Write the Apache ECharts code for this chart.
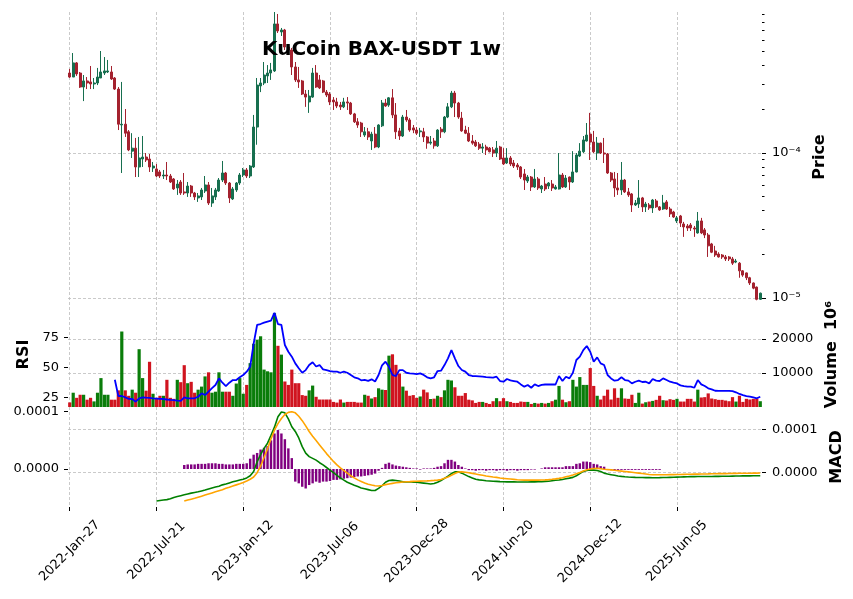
<!DOCTYPE html>
<html>
<head>
<meta charset="utf-8">
<script src="https://cdn.jsdelivr.net/npm/echarts@6/dist/echarts.min.js"></script>
<style>
  html, body { margin: 0; padding: 0; background: #fff; }
  #chart { width: 853px; height: 599px; }
</style>
</head>
<body>
<div id="chart"></div>
<script>
// weekly candles, prices in micro-USDT (1e-6): [open, close, low, high]
const ohlc = [
  [356,334,329,380],[334,418,334,489],[418,351,340,424],[356,285,281,362],[285,314,228,345],
  [314,304,276,334],[309,299,276,398],[299,304,276,329],[304,334,294,386],[329,362,329,505],
  [356,368,345,459],[362,368,356,438],[362,324,319,398],[329,276,272,334],[276,158,144,285],
  [156,158,72.8,309],[158,137,129,201],[140,105,103,144],[103,108,92.4,137],[108,80.1,68.3,127],
  [80.1,92.4,68.3,129],[90.9,93.8,80.1,131],[93.8,89.5,86.7,100],[90.9,80.1,74.0,98.4],[78.8,81.3,74.0,86.7],
  [77.6,69.4,68.3,84.0],[74.0,69.4,67.2,76.4],[69.4,70.5,66.2,76.4],[70.5,69.4,65.1,86.7],[69.4,63.1,62.1,71.7],
  [66.2,56.5,55.6,67.2],[57.4,61.1,51.4,65.1],[63.1,53.0,51.4,65.1],[53.9,53.0,51.4,72.8],[53.0,59.2,49.8,63.1],
  [59.2,53.0,49.8,60.2],[53.0,49.8,47.4,53.9],[49.0,50.6,46.0,53.0],[49.8,55.6,47.4,57.4],[54.7,60.2,53.0,69.4],
  [60.2,45.2,43.8,63.1],[45.2,50.6,42.5,57.4],[49.8,55.6,47.4,57.4],[54.7,65.1,53.9,67.2],[65.1,72.8,63.1,88.1],
  [72.8,62.1,60.2,74.0],[62.1,49.0,45.2,63.1],[48.2,56.5,47.4,58.3],[55.6,62.1,53.9,63.1],[62.1,70.5,60.2,72.8],
  [70.5,76.4,68.3,78.8],[76.4,69.4,67.2,78.8],[69.4,81.3,67.2,82.6],[80.1,151,78.8,183],[151,294,114,329],
  [290,304,263,329],[304,345,294,424],[340,356,304,404],[356,374,319,418],[368,776,362,938],
  [776,694,672,909],[683,705,641,728],[705,538,513,717],[538,513,474,556],[513,392,345,530],
  [392,319,309,424],[319,309,281,392],[314,255,251,319],[255,243,208,272],[225,247,189,272],
  [243,356,240,386],[356,285,281,404],[319,281,276,345],[314,263,259,319],[263,251,243,272],
  [255,225,214,263],[232,225,198,243],[225,211,204,240],[214,208,198,225],[208,225,204,240],
  [225,221,198,243],[221,186,183,225],[186,164,161,189],[164,156,149,174],[161,140,129,164],
  [133,140,129,151],[140,129,123,149],[121,135,105,140],[135,110,108,151],[110,156,108,158],
  [154,221,151,232],[221,211,208,236],[214,240,208,243],[240,183,174,276],[183,140,125,221],
  [142,131,123,149],[131,177,129,183],[177,169,164,198],[169,144,140,174],[149,144,137,156],
  [144,137,133,151],[140,142,129,149],[140,129,119,149],[129,117,107,131],[117,119,114,131],
  [121,112,107,127],[112,144,110,146],[146,140,127,151],[140,177,137,180],[177,208,174,221],
  [208,259,204,268],[259,221,177,268],[221,177,172,225],[174,142,140,192],[144,137,135,154],
  [137,121,119,151],[121,117,114,133],[119,112,110,123],[115,108,105,119],[108,110,100,117],
  [110,105,96.9,114],[108,102,101,110],[105,100,93.8,110],[100,108,93.8,121],[110,90.9,89.5,112],
  [92.4,84.0,82.6,108],[85.3,92.4,84.0,108],[92.4,84.0,81.3,95.3],[85.3,81.3,78.8,89.5],[82.6,80.1,76.4,85.3],
  [80.1,68.3,66.2,81.3],[71.7,65.1,55.6,77.6],[64.1,68.3,62.1,70.5],[68.3,58.3,54.7,69.4],[58.3,66.2,57.4,77.6],
  [66.2,57.4,55.6,68.3],[56.5,59.2,53.0,60.2],[61.1,56.5,54.7,68.3],[59.2,62.1,56.5,63.1],[61.1,57.4,54.7,65.1],
  [56.5,58.3,56.0,60.2],[56.5,70.5,56.0,100],[70.5,58.3,57.4,72.8],[58.3,67.2,57.4,70.5],[68.3,63.1,55.6,68.8],
  [63.1,74.0,62.1,103],[74.0,96.9,73.5,100],[95.3,103,93.8,117],[102,123,100,131],[121,133,120,161],
  [135,119,89.5,189],[119,102,100,142],[100,117,89.5,129],[117,100,98.4,118],[100,98.4,85.3,127],
  [98.4,72.8,71.7,100],[72.8,65.1,63.1,74.0],[66.2,57.4,49.8,74.0],[57.4,55.6,51.4,72.8],[55.6,65.1,51.4,86.7],
  [65.1,53.9,53.0,66.2],[53.9,51.4,49.8,57.4],[52.2,43.8,39.2,53.0],[43.8,45.2,43.1,47.4],[44.5,49.0,41.8,65.1],
  [49.0,42.5,39.2,49.8],[42.5,44.5,39.2,46.0],[43.8,41.8,40.5,45.2],[41.8,47.4,38.6,48.2],[46.7,42.5,41.8,48.2],
  [42.5,40.5,39.9,43.1],[41.1,45.2,40.5,51.4],[46.0,41.1,40.5,47.4],[41.1,38.0,36.2,42.5],[39.2,36.2,35.7,39.9],
  [34.0,35.7,32.9,36.8],[36.8,32.9,30.9,37.4],[32.4,30.9,26.4,33.5],[31.4,30.4,29.0,32.4],[31.9,30.4,29.0,32.9],
  [30.4,29.9,26.4,31.4],[28.1,34.0,27.8,39.2],[34.0,28.1,27.6,35.7],[29.5,27.2,25.9,30.4],[27.2,22.9,19.2,28.1],
  [23.6,20.7,20.4,24.0],[21.1,19.8,19.2,22.9],[20.1,19.2,19.0,20.7],[19.8,19.2,18.6,20.1],[19.2,18.6,18.0,19.8],
  [19.2,18.6,18.0,19.5],[18.6,17.4,16.9,19.2],[17.7,18.0,17.4,18.6],[17.4,15.4,13.8,17.7],[15.4,14.4,14.0,15.6],
  [14.9,13.8,13.3,15.0],[13.8,12.7,12.3,14.0],[12.7,11.7,11.5,12.8],[11.9,9.8,9.65,12.0],[9.8,10.8,9.7,10.9]
];

// volume, shown in units of 10^6
const volumes = [
  1350,4200,2700,3600,3600,2150,2700,1650,4200,8500,
  3600,3600,2150,2150,4900,22200,4900,3300,5100,4200,
  17000,8500,4800,13300,3900,2700,3300,3300,8000,2700,
  2400,8000,7300,12300,7000,7400,4200,5100,6000,9000,
  10200,4200,4500,10200,4500,4500,4500,3300,6900,8500,
  3900,6500,12900,18600,19800,20800,11000,10500,10200,27600,
  18000,15400,7500,6500,11000,7000,7000,3500,3300,4900,
  6300,3000,2200,2200,2200,2200,1500,1300,2200,1300,
  1500,1500,1500,1300,1300,3600,3300,2500,2900,5500,
  5100,5000,15100,15500,12400,9800,6000,4800,3300,3500,
  2700,3100,5100,4300,2350,2450,3300,2900,4900,8000,
  7800,5800,3300,3300,4100,2150,1950,1200,1500,1500,
  1200,900,1700,2600,1700,2600,1700,1500,1200,1200,
  1600,1500,1500,900,1200,1000,1200,1000,1200,1700,
  2150,6200,2150,1400,1700,8000,6000,8800,6500,6500,
  11450,6200,3300,2200,3300,5100,2200,5500,2700,5500,
  2500,2400,3600,1200,4200,1000,1400,1600,1800,2100,
  3300,2000,1900,2300,2100,2400,1600,1600,2400,2400,
  1600,5100,2800,2900,4000,2500,2300,2100,2100,1900,
  1700,2900,1600,3300,1500,2400,2200,2400,2500,1700
];

// RSI, first value at week 13
const rsiStart = 13;
const rsiValues = [
  40,26.4,26.4,25.3,24,23.9,21.7,24.5,25.3,25,
  24.8,24.5,24.3,24,23.9,23.5,23.2,23,22.6,22.3,
  25.3,24.5,24.5,24.5,25.8,28.6,27.2,30,33,35.6,
  41.1,37.5,34.7,37.5,39.7,39.7,42,43.9,46.7,50.8,
  70,85.6,86.4,87.5,88.4,89.2,95.8,86.4,85.6,68.9,
  63.3,59.2,53.6,49.5,45.8,48,52.2,54.5,51,52.2,
  48.6,48,47.2,46.7,46.7,45.8,46.7,45.8,43.9,42,
  41.2,39.5,39.8,39,40.3,38.5,43.9,52,55,50.8,
  44,43,48,48,45.8,45.3,45,44.7,45.3,44,
  42,41.1,42,47.2,47.5,52.2,57.8,64.7,57.8,51.4,
  48.1,46.7,43.9,43.1,43,42.8,42.5,42.2,42,41.8,
  42.5,38.9,38.3,40.6,39.5,38.9,38.3,36.1,34.2,35.6,
  33.3,36.1,34.7,35.6,36,36,36,36,43.1,38.9,
  42.5,41.1,45.8,56.4,59.2,64.7,68.1,63.3,55,58.6,
  53.6,52.2,43.9,41.1,39.2,39.7,42,39.7,39.2,36.9,
  38.3,39.2,38.1,38.3,36.9,40.6,39.2,38.9,41.1,39.7,
  38.3,37.5,36.9,35.3,34.7,34.2,34.2,33.3,39.7,36.1,
  34.7,32.8,32,30.8,30.7,30.7,30.7,30.7,30.5,29.5,
  28.1,27.2,26.4,25.8,25.2,24.5,25.8
];

// MACD panel, values in units of 1e-4
const macdStart = 25;
const macdValues = [
  -0.65,-0.64,-0.63,-0.62,-0.60,-0.57,-0.55,-0.53,-0.51,-0.49,
  -0.47,-0.455,-0.44,-0.42,-0.40,-0.375,-0.35,-0.33,-0.31,-0.28,
  -0.26,-0.235,-0.21,-0.19,-0.17,-0.15,-0.12,-0.07,0.03,0.25,
  0.42,0.56,0.68,0.86,1.05,1.29,1.40,1.38,1.24,1.06,
  0.95,0.80,0.60,0.45,0.37,0.33,0.29,0.23,0.18,0.12,
  0.06,0.0,-0.06,-0.12,-0.17,-0.22,-0.255,-0.29,-0.32,-0.35,
  -0.37,-0.39,-0.41,-0.41,-0.36,-0.30,-0.22,-0.18,-0.17,-0.18,
  -0.19,-0.21,-0.21,-0.21,-0.22,-0.22,-0.23,-0.24,-0.25,-0.26,
  -0.25,-0.22,-0.18,-0.13,-0.08,-0.02,0.02,0.02,-0.01,-0.05,
  -0.09,-0.12,-0.15,-0.165,-0.175,-0.185,-0.19,-0.195,-0.2,-0.205,
  -0.207,-0.21,-0.21,-0.212,-0.214,-0.215,-0.215,-0.214,-0.212,-0.21,
  -0.208,-0.207,-0.2,-0.195,-0.185,-0.175,-0.168,-0.155,-0.14,-0.125,
  -0.107,-0.07,-0.02,0.03,0.05,0.062,0.06,0.05,0.03,-0.01,
  -0.03,-0.045,-0.06,-0.075,-0.085,-0.092,-0.098,-0.103,-0.107,-0.109,
  -0.111,-0.113,-0.114,-0.115,-0.115,-0.114,-0.112,-0.11,-0.107,-0.105,
  -0.102,-0.1,-0.095,-0.092,-0.091,-0.09,-0.089,-0.088,-0.088,-0.087,
  -0.086,-0.085,-0.084,-0.083,-0.082,-0.08,-0.078,-0.076,-0.075,-0.074,
  -0.073,-0.072,-0.071,-0.07,-0.069
];
const signalStart = 33;
const signalValues = [
  -0.652,-0.63,-0.61,-0.59,-0.565,-0.54,-0.515,-0.49,-0.465,-0.44,
  -0.415,-0.39,-0.36,-0.335,-0.306,-0.28,-0.255,-0.225,-0.19,-0.15,
  -0.10,0.0,0.15,0.35,0.55,0.78,0.98,1.13,1.25,1.34,
  1.39,1.405,1.38,1.30,1.20,1.08,0.95,0.84,0.74,0.64,
  0.54,0.44,0.35,0.26,0.18,0.11,0.05,-0.01,-0.07,-0.12,
  -0.165,-0.2,-0.235,-0.265,-0.285,-0.3,-0.305,-0.295,-0.275,-0.26,
  -0.245,-0.23,-0.222,-0.215,-0.208,-0.205,-0.2,-0.197,-0.193,-0.19,
  -0.187,-0.183,-0.177,-0.17,-0.155,-0.13,-0.1,-0.06,-0.02,0.015,
  0.02,0.01,0.0,-0.015,-0.03,-0.045,-0.06,-0.076,-0.087,-0.098,
  -0.108,-0.12,-0.13,-0.138,-0.146,-0.154,-0.162,-0.168,-0.17,-0.17,
  -0.17,-0.17,-0.17,-0.168,-0.165,-0.16,-0.152,-0.142,-0.13,-0.115,
  -0.095,-0.075,-0.053,-0.025,0.005,0.04,0.07,0.085,0.097,0.1,
  0.092,0.08,0.073,0.065,0.055,0.046,0.037,0.028,0.019,0.01,
  0.0,-0.01,-0.02,-0.03,-0.04,-0.046,-0.047,-0.047,-0.046,-0.046,
  -0.045,-0.044,-0.042,-0.04,-0.038,-0.036,-0.035,-0.033,-0.032,-0.03,
  -0.028,-0.027,-0.025,-0.024,-0.022,-0.021,-0.02,-0.018,-0.016,-0.015,
  -0.014,-0.013,-0.012,-0.011,-0.01,-0.009,-0.008
];
const histStart = 33;
const histValues = [
  0.07,0.08,0.08,0.08,0.09,0.09,0.09,0.1,0.1,0.1,
  0.09,0.09,0.08,0.08,0.08,0.09,0.09,0.09,0.1,0.18,
  0.25,0.28,0.34,0.37,0.40,0.50,0.62,0.68,0.62,0.52,
  0.36,0.19,-0.22,-0.25,-0.31,-0.34,-0.28,-0.25,-0.22,-0.24,
  -0.22,-0.22,-0.21,-0.19,-0.19,-0.18,-0.17,-0.16,-0.15,-0.14,
  -0.13,-0.13,-0.12,-0.11,-0.10,-0.08,-0.03,0.02,0.09,0.11,
  0.08,0.06,0.05,0.04,0.03,0.02,0.01,0.01,-0.01,0.01,
  0.01,0.01,0.02,0.04,0.05,0.10,0.16,0.16,0.13,0.07,
  0.04,0.01,-0.02,-0.02,-0.03,-0.02,-0.02,-0.03,-0.02,-0.02,
  -0.03,-0.02,-0.02,-0.03,-0.02,-0.02,-0.03,-0.02,-0.02,-0.02,
  -0.01,-0.01,0.0,0.01,0.03,0.03,0.03,0.03,0.03,0.03,
  0.05,0.05,0.05,0.09,0.10,0.13,0.13,0.12,0.09,0.08,
  0.05,0.04,-0.02,-0.02,-0.02,-0.015,-0.015,-0.015,-0.015,-0.015,
  -0.015,-0.015,-0.015,-0.015,-0.015,-0.015,-0.015,-0.015
];

const priceTicks = [10, 100];
const priceTickLabels = ['10⁻⁵', '10⁻⁴'];
const priceMinorTicks = [20,30,40,50,60,70,80,90,200,300,400,500,600,700,800,900];
const rsiTicks = [25, 50, 75];
const volumeTicks = [10000, 20000];
const macdTicks = [0, 1];
const macdTickLabels = ['0.0000', '0.0001'];

const firstWeek = [2022, 0, 27];
const months = ['Jan','Feb','Mar','Apr','May','Jun','Jul','Aug','Sep','Oct','Nov','Dec'];
const dates = ohlc.map((_, i) => {
  const d = new Date(Date.UTC(firstWeek[0], firstWeek[1], firstWeek[2] + 7 * i));
  return d.getUTCFullYear() + '-' + months[d.getUTCMonth()] + '-' + String(d.getUTCDate()).padStart(2, '0');
});

function pad(start, values) {
  return new Array(start).fill(null).concat(values);
}

const upColor = '#176f4f';
const downColor = '#a4222f';
const volUp = '#0a7d0a';
const volDown = '#d0141f';
const dashed = { color: '#bdbdbd', type: [3, 2], width: 0.8 };
const gridLine = { show: true, lineStyle: dashed };
const tickFont = { color: '#000', fontSize: 13, fontFamily: 'DejaVu Sans' };
const nameFont = { color: '#000', fontSize: 16, fontWeight: 'bold', fontFamily: 'DejaVu Sans' };

const chart = echarts.init(document.getElementById('chart'), null, { renderer: 'canvas' });

const xBase = {
  type: 'category',
  data: dates,
  boundaryGap: true,
  axisLine: { show: false, onZero: false },
  axisTick: { show: false },
  axisLabel: { show: false },
  splitLine: { show: true, interval: 24, alignWithLabel: true, lineStyle: dashed },
};

chart.setOption({
  animation: false,
  backgroundColor: '#fff',
  textStyle: { fontFamily: 'DejaVu Sans' },
  title: {
    text: 'KuCoin BAX-USDT 1w',
    left: 257,
    top: 35,
    textStyle: { fontSize: 20, fontWeight: 'bold', color: '#000', fontFamily: 'DejaVu Sans' },
  },
  grid: [
    { left: 68, width: 694, top: 12, height: 290 },
    { left: 68, width: 694, top: 302, height: 105 },
    { left: 68, width: 694, top: 407, height: 100 },
  ],
  xAxis: [
    Object.assign({}, xBase, { gridIndex: 0 }),
    Object.assign({}, xBase, { gridIndex: 1 }),
    Object.assign({}, xBase, {
      gridIndex: 2,
      axisTick: { show: true, interval: 24, alignWithLabel: true, length: 4, lineStyle: { color: '#000' } },
      axisLabel: Object.assign({
        show: true, interval: 24, rotate: 45, align: 'center', verticalAlign: 'middle', margin: 44,
      }, tickFont),
    }),
  ],
  yAxis: [
    {
      type: 'log', logBase: 10, gridIndex: 0, position: 'right', min: 9.39, max: 938,
      name: 'Price', nameLocation: 'middle', nameRotate: 90, nameGap: 50, nameTextStyle: nameFont,
      axisLine: { show: false },
      axisTick: { show: true, length: 4, customValues: priceTicks, lineStyle: { color: '#000' } },
      axisLabel: Object.assign({
        margin: 10, customValues: priceTicks,
        formatter: v => priceTickLabels[priceTicks.indexOf(Math.round(v))] || '',
      }, tickFont),
      splitLine: gridLine,
    },
    {
      type: 'log', logBase: 10, gridIndex: 0, position: 'right', min: 9.39, max: 938,
      axisLine: { show: false },
      axisTick: { show: true, length: 2.5, customValues: priceMinorTicks, lineStyle: { color: '#000' } },
      axisLabel: { show: false },
      splitLine: { show: false },
    },
    {
      type: 'value', gridIndex: 1, position: 'left', min: 17.25, max: 104.75,
      name: 'RSI', nameLocation: 'middle', nameRotate: 90, nameGap: 36, nameTextStyle: nameFont,
      axisLine: { show: false },
      axisTick: { show: true, length: 4, customValues: rsiTicks, lineStyle: { color: '#000' } },
      axisLabel: Object.assign({ margin: 9, customValues: rsiTicks }, tickFont),
      splitLine: { show: false },
    },
    {
      type: 'value', gridIndex: 1, position: 'right', min: 0, max: 30880,
      name: 'Volume  10⁶', nameLocation: 'middle', nameRotate: 90, nameGap: 55, nameTextStyle: nameFont,
      axisLine: { show: false },
      axisTick: { show: true, length: 4, customValues: volumeTicks, lineStyle: { color: '#000' } },
      axisLabel: Object.assign({ margin: 10, customValues: volumeTicks, formatter: v => String(v) }, tickFont),
      splitLine: gridLine,
    },
    {
      type: 'value', gridIndex: 2, position: 'left', min: -0.663, max: 1.082,
      axisLine: { show: false },
      axisTick: { show: true, length: 4, customValues: macdTicks, lineStyle: { color: '#000' } },
      axisLabel: Object.assign({
        margin: 9, customValues: macdTicks,
        formatter: v => macdTickLabels[macdTicks.indexOf(Math.round(v))],
      }, tickFont),
      splitLine: { show: false },
    },
    {
      type: 'value', gridIndex: 2, position: 'right', min: -0.79, max: 1.514,
      name: 'MACD', nameLocation: 'middle', nameRotate: 90, nameGap: 63, nameTextStyle: nameFont,
      axisLine: { show: false },
      axisTick: { show: true, length: 4, customValues: macdTicks, lineStyle: { color: '#000' } },
      axisLabel: Object.assign({
        margin: 10, customValues: macdTicks,
        formatter: v => macdTickLabels[macdTicks.indexOf(Math.round(v))],
      }, tickFont),
      splitLine: gridLine,
    },
  ],
  series: [
    {
      name: 'Price', type: 'candlestick', xAxisIndex: 0, yAxisIndex: 0,
      barWidth: '72%',
      data: ohlc,
      itemStyle: { color: upColor, color0: downColor, borderColor: upColor, borderColor0: downColor, borderWidth: 1 },
    },
    {
      name: 'Volume', type: 'bar', xAxisIndex: 1, yAxisIndex: 3,
      barWidth: '92%',
      data: volumes.map((v, i) => ({ value: v, itemStyle: { color: ohlc[i][1] >= ohlc[i][0] ? volUp : volDown } })),
    },
    {
      name: 'RSI', type: 'line', xAxisIndex: 1, yAxisIndex: 2,
      data: pad(rsiStart, rsiValues), showSymbol: false, z: 5,
      lineStyle: { color: '#0000ff', width: 1.8 },
    },
    {
      name: 'Histogram', type: 'bar', xAxisIndex: 2, yAxisIndex: 4,
      barWidth: '70%',
      data: pad(histStart, histValues),
      itemStyle: { color: '#800080' },
    },
    {
      name: 'MACD', type: 'line', xAxisIndex: 2, yAxisIndex: 5,
      data: pad(macdStart, macdValues), showSymbol: false, z: 5,
      lineStyle: { color: '#008000', width: 1.6 },
    },
    {
      name: 'Signal', type: 'line', xAxisIndex: 2, yAxisIndex: 5,
      data: pad(signalStart, signalValues), showSymbol: false, z: 5,
      lineStyle: { color: '#ffa500', width: 1.6 },
    },
  ],
});
</script>
</body>
</html>
